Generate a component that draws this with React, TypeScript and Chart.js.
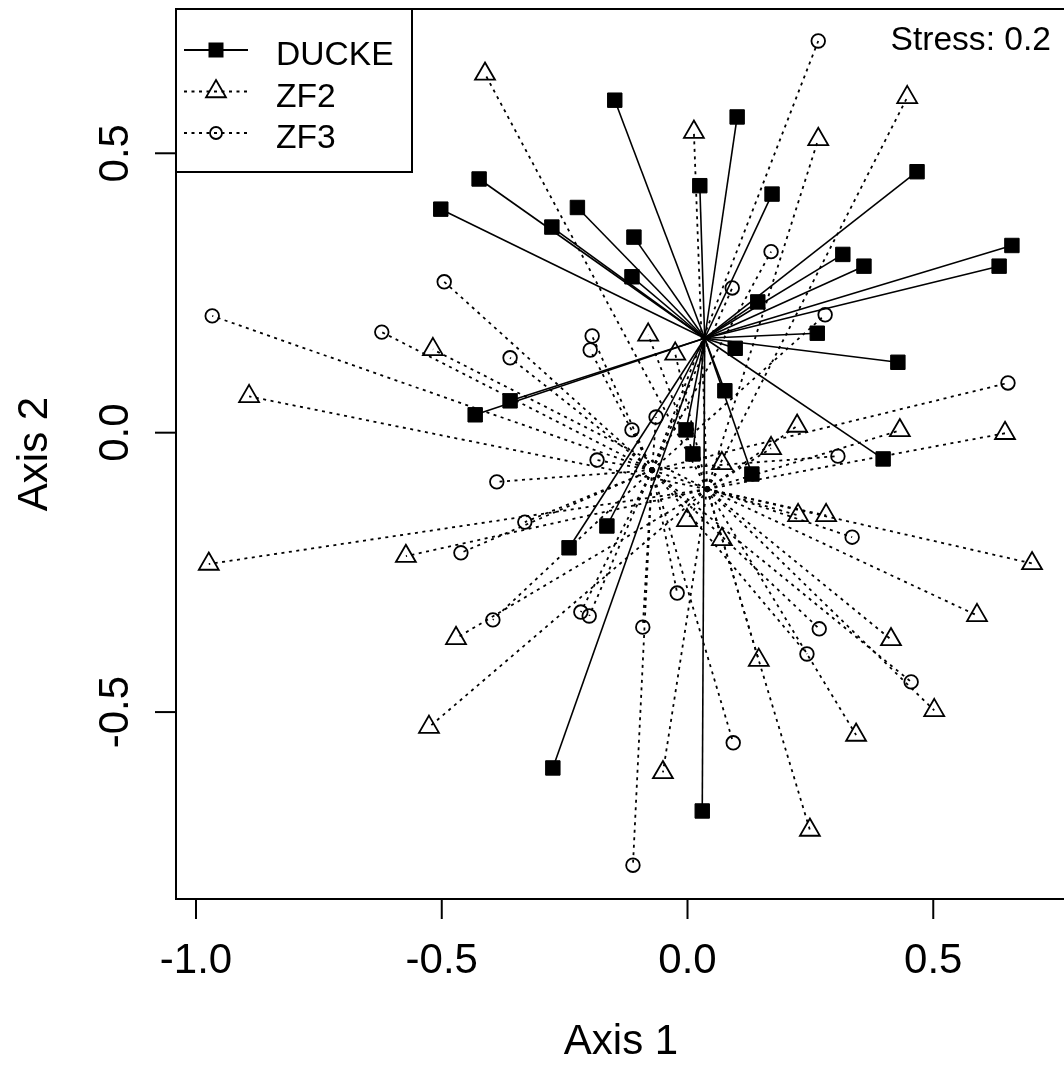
import React, { useEffect, useRef } from 'react';
import { Chart, registerables } from 'chart.js';

Chart.register(...registerables);

// ---- data (NMDS site scores) ----
const GROUPS = ['DUCKE', 'ZF2', 'ZF3'];

const DUCKE_X = [-0.148, 0.101, -0.424, 0.025, 0.467, -0.502, -0.224, 0.172, -0.276, -0.109,
  0.660, 0.634, 0.316, 0.359, -0.113, 0.143, 0.264, 0.097, 0.428, -0.361,
  -0.432, 0.076, -0.003, 0.011, 0.131, 0.398, -0.164, -0.241, -0.274, 0.030];
const DUCKE_Y = [0.595, 0.565, 0.454, 0.442, 0.467, 0.400, 0.403, 0.427, 0.368, 0.350,
  0.335, 0.298, 0.319, 0.298, 0.279, 0.234, 0.178, 0.151, 0.126, 0.057,
  0.032, 0.075, 0.005, -0.038, -0.074, -0.047, -0.167, -0.206, -0.600, -0.677];

const ZF2_X = [-0.412, 0.447, 0.013, 0.266, -0.080, -0.518, -0.025, -0.892, 0.223, 0.432,
  0.646, 0.170, 0.070, 0.225, 0.282, -0.001, 0.070, -0.573, -0.974, 0.701,
  0.589, -0.471, 0.414, 0.145, 0.502, -0.526, 0.343, -0.050, 0.249];
const ZF2_Y = [0.642, 0.600, 0.538, 0.525, 0.175, 0.149, 0.141, 0.065, 0.012, 0.004,
  -0.001, -0.028, -0.055, -0.148, -0.148, -0.157, -0.191, -0.221, -0.235, -0.234,
  -0.327, -0.368, -0.370, -0.407, -0.497, -0.527, -0.541, -0.608, -0.711];

const ZF3_X = [0.266, -0.495, 0.170, -0.967, -0.622, 0.091, 0.280, -0.194, -0.198, -0.361,
  0.652, -0.113, -0.064, -0.184, -0.388, 0.306, -0.331, -0.461, 0.335, -0.396,
  -0.217, -0.200, -0.021, -0.091, 0.268, 0.243, 0.455, 0.093, -0.111];
const ZF3_Y = [0.701, 0.270, 0.324, 0.209, 0.180, 0.259, 0.211, 0.173, 0.148, 0.134,
  0.089, 0.005, 0.028, -0.049, -0.088, -0.042, -0.160, -0.215, -0.187, -0.335,
  -0.321, -0.328, -0.287, -0.348, -0.351, -0.396, -0.446, -0.555, -0.774];

// group centroids (spider centres)
const CENTER_X = [0.035, 0.040, -0.072];
const CENTER_Y = [0.169, -0.101, -0.067];

const X_TICKS = [-1.0, -0.5, 0.0, 0.5];
const X_TICK_LABELS = ['-1.0', '-0.5', '0.0', '0.5'];
const Y_TICKS = [-0.5, 0.0, 0.5];
const Y_TICK_LABELS = ['-0.5', '0.0', '0.5'];
const X_TITLE = 'Axis 1';
const Y_TITLE = 'Axis 2';
const STRESS_TEXT = 'Stress: 0.2';

const FONT = '"Liberation Sans", Arial, Helvetica, sans-serif';
const DOT_DASH = [3, 4.5];

function drawSymbol(ctx: CanvasRenderingContext2D, kind: number, x: number, y: number) {
  ctx.save();
  ctx.strokeStyle = '#000';
  ctx.fillStyle = '#000';
  if (kind === 0) {
    ctx.fillRect(x - 7.5, y - 7.5, 15, 15);
  } else if (kind === 1) {
    const r = 11.5;
    ctx.lineWidth = 1.8;
    ctx.beginPath();
    ctx.moveTo(x, y - r);
    ctx.lineTo(x + 0.866 * r, y + 0.5 * r);
    ctx.lineTo(x - 0.866 * r, y + 0.5 * r);
    ctx.closePath();
    ctx.stroke();
  } else {
    ctx.lineWidth = 1.8;
    ctx.beginPath();
    ctx.arc(x, y, 6, 0, Math.PI * 2);
    ctx.stroke();
  }
  ctx.restore();
}

const rFrame = {
  id: 'rFrame',
  afterDraw(chart: any) {
    const ctx: CanvasRenderingContext2D = chart.ctx;
    const xs = chart.scales.x;
    const ys = chart.scales.y;
    const { left, top, right, bottom } = chart.chartArea;
    ctx.save();
    ctx.strokeStyle = '#000';
    ctx.fillStyle = '#000';
    ctx.lineWidth = 2;
    // plot box (right edge falls just outside the canvas)
    ctx.strokeRect(left, top, right - left + 2, bottom - top);

    // x axis ticks + labels
    ctx.font = `42px ${FONT}`;
    ctx.textAlign = 'center';
    ctx.textBaseline = 'alphabetic';
    X_TICKS.forEach((v, i) => {
      const px = xs.getPixelForValue(v);
      ctx.beginPath();
      ctx.moveTo(px, bottom);
      ctx.lineTo(px, bottom + 20);
      ctx.stroke();
      ctx.fillText(X_TICK_LABELS[i], px, 973);
    });
    // y axis ticks + rotated labels
    Y_TICKS.forEach((v, i) => {
      const py = ys.getPixelForValue(v);
      ctx.beginPath();
      ctx.moveTo(left, py);
      ctx.lineTo(left - 21, py);
      ctx.stroke();
      ctx.save();
      ctx.translate(128, py);
      ctx.rotate(-Math.PI / 2);
      ctx.fillText(Y_TICK_LABELS[i], 0, 0);
      ctx.restore();
    });
    // axis titles
    ctx.fillText(X_TITLE, (left + right + 2) / 2, 1054);
    ctx.save();
    ctx.translate(47, (top + bottom) / 2);
    ctx.rotate(-Math.PI / 2);
    ctx.fillText(Y_TITLE, 0, 0);
    ctx.restore();

    // stress annotation
    ctx.font = `33.6px ${FONT}`;
    ctx.textAlign = 'right';
    ctx.fillText(STRESS_TEXT, 1051, 50);

    // legend
    ctx.fillStyle = '#fff';
    ctx.fillRect(left, top, 236, 163);
    ctx.strokeRect(left, top, 236, 163);
    const rows = [50, 91.5, 133];
    const textBase = [64.5, 106.5, 147.5];
    GROUPS.forEach((g, k) => {
      const y = rows[k];
      ctx.save();
      ctx.lineWidth = 1.8;
      ctx.setLineDash(k === 0 ? [] : DOT_DASH);
      ctx.beginPath();
      ctx.moveTo(184, y);
      ctx.lineTo(248, y);
      ctx.stroke();
      ctx.restore();
      drawSymbol(ctx, k, 216, y);
      ctx.fillStyle = '#000';
      ctx.textAlign = 'left';
      ctx.font = `33.6px ${FONT}`;
      ctx.fillText(g, 276, textBase[k]);
    });
    ctx.restore();
  },
};

export default function App() {
  const ref = useRef<HTMLCanvasElement | null>(null);

  useEffect(() => {
    if (!ref.current) return;
    const xsArr = [DUCKE_X, ZF2_X, ZF3_X];
    const ysArr = [DUCKE_Y, ZF2_Y, ZF3_Y];

    const spokes: any[] = [];
    xsArr.forEach((xa, g) => {
      xa.forEach((xv, i) => {
        spokes.push({
          label: `${GROUPS[g]}-spoke-${i}`,
          data: [
            { x: CENTER_X[g], y: CENTER_Y[g] },
            { x: xv, y: ysArr[g][i] },
          ],
          showLine: true,
          pointRadius: 0,
          borderColor: '#000',
          borderWidth: g === 0 ? 1.6 : 1.8,
          borderDash: g === 0 ? [] : DOT_DASH,
          fill: false,
          tension: 0,
          order: 0,
        });
      });
    });

    const points = [
      {
        label: GROUPS[0],
        data: DUCKE_X.map((x, i) => ({ x, y: DUCKE_Y[i] })),
        pointStyle: 'rect',
        pointRadius: 10.2,
        backgroundColor: '#000',
        borderColor: '#000',
        borderWidth: 1,
        showLine: false,
        order: 1,
      },
      {
        label: GROUPS[1],
        data: ZF2_X.map((x, i) => ({ x, y: ZF2_Y[i] })),
        pointStyle: 'triangle',
        pointRadius: 11.5,
        backgroundColor: 'rgba(0,0,0,0)',
        borderColor: '#000',
        borderWidth: 1.8,
        showLine: false,
        order: 1,
      },
      {
        label: GROUPS[2],
        data: ZF3_X.map((x, i) => ({ x, y: ZF3_Y[i] })),
        pointStyle: 'circle',
        pointRadius: 6.8,
        backgroundColor: 'rgba(0,0,0,0)',
        borderColor: '#000',
        borderWidth: 1.8,
        showLine: false,
        order: 1,
      },
    ];

    const chart = new Chart(ref.current, {
      type: 'scatter',
      data: { datasets: [...spokes, ...points] as any },
      options: {
        responsive: false,
        animation: false,
        devicePixelRatio: 1,
        events: [],
        layout: { autoPadding: false, padding: { left: 176, top: 9, right: 0, bottom: 167 } },
        scales: {
          x: { type: 'linear', min: -1.0407, max: 0.766, display: false },
          y: { type: 'linear', min: -0.8345, max: 0.7582, display: false },
        },
        plugins: {
          legend: { display: false },
          tooltip: { enabled: false },
        },
      } as any,
      plugins: [rFrame],
    });
    return () => chart.destroy();
  }, []);

  return (
    <div style={{ position: 'absolute', left: 0, top: 0, width: 1064, height: 1066, background: '#fff' }}>
      <canvas ref={ref} width={1064} height={1066} style={{ display: 'block' }} />
    </div>
  );
}
